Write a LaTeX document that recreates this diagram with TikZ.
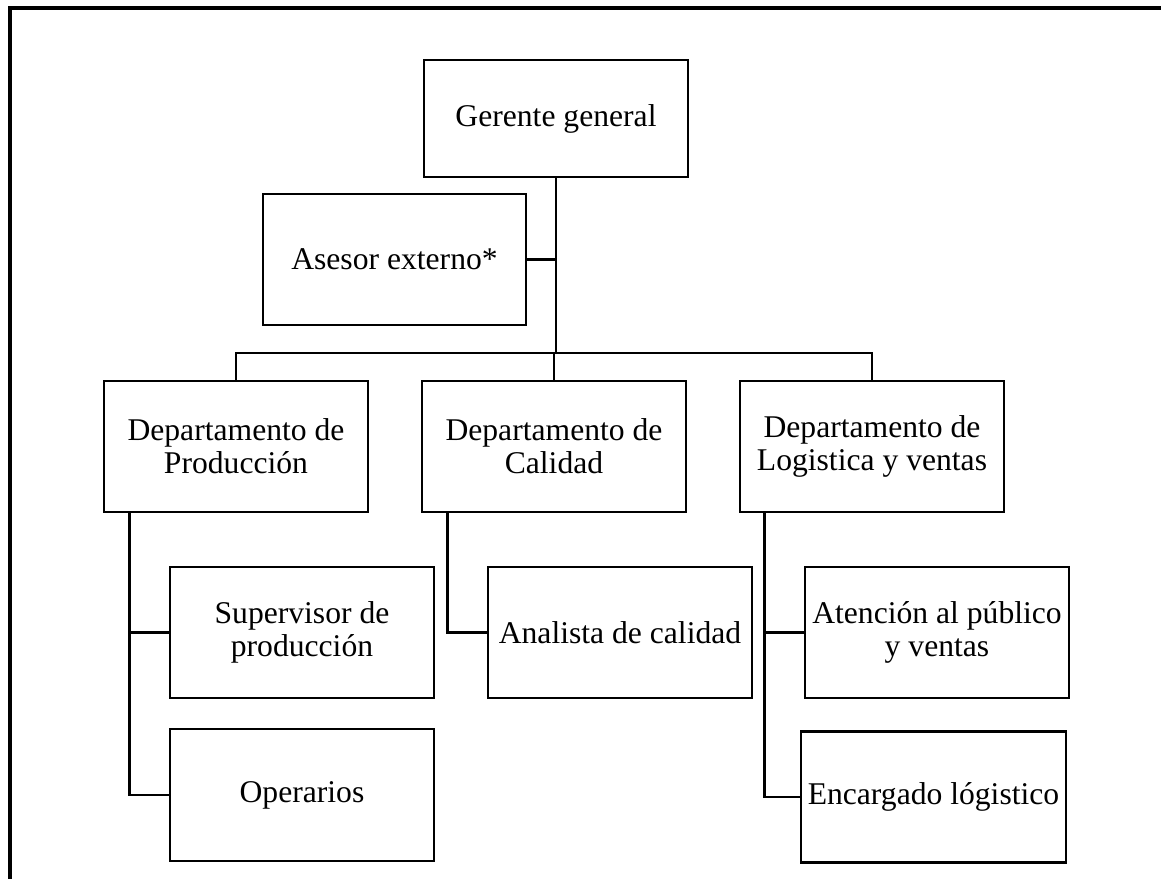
\documentclass[tikz,border=0pt]{standalone}
\usepackage{fontspec}
\setmainfont{Liberation Serif}
\usetikzlibrary{calc}

\begin{document}
\begin{tikzpicture}[x=0.02cm, y=-0.02cm, line cap=rect, line join=miter,
    box/.style={draw, line width=1.5pt, rectangle, inner sep=0pt, align=center,
      minimum width=5.28cm, minimum height=2.62cm,
      font=\fontsize{18pt}{18.6pt}\selectfont},
    link/.style={line width=1.5pt}]
  \useasboundingbox (0,0) rectangle (1161,879);

  %--- frame (only top and left edges show) -------------------------------
  \draw[line width=1.8pt] (10,879) -- (10,8) -- (1161,8);

  %--- top level ------------------------------------------------------------
  \node[box, minimum height=2.34cm] (gerente) at (556,118.5) {Gerente general};
  \node[box, minimum width=5.26cm] (asesor) at (394.5,259.5) {Asesor externo*};

  %--- departments ----------------------------------------------------------
  \node[box] (dprod) at (236,446.5) {Departamento de\\Producción};
  \node[box] (dcal)  at (554,446.5) {Departamento de\\Calidad};
  \node[box] (dlog)  at (872,446.5) {Departamento de\\Logistica y ventas};

  %--- staff ----------------------------------------------------------------
  \node[box] (superv)    at (302,632.5) {Supervisor de\\producción};
  \node[box, minimum height=2.64cm] (operarios) at (302,795) {Operarios};
  \node[box] (analista)  at (620,632.5) {Analista de calidad};
  \node[box] (atencion)  at (937,632.5) {Atención al público\\y ventas};
  \node[box, minimum width=5.3cm] (encargado) at (933.5,797) {Encargado lógistico};

  %--- connectors -----------------------------------------------------------
  \coordinate (hub) at (556,353);
  \draw[link] (gerente.south) -- (hub);
  \draw[link] (asesor.east) -- (asesor.east -| hub);
  \draw[link] (dprod.north) |- (hub) -| (dlog.north);
  \draw[link] (dcal.north) -- (dcal.north |- hub);

  \coordinate (pline) at ($(dprod.south west)+(27,0)$);
  \coordinate (cline) at ($(dcal.south west)+(27,0)$);
  \coordinate (lline) at ($(dlog.south west)+(26,0)$);
  \draw[link] (pline) |- (superv.west);
  \draw[link] (pline) |- (operarios.west);
  \draw[link] (cline) |- (analista.west);
  \draw[link] (lline) |- (atencion.west);
  \draw[link] (lline) |- (encargado.west);
\end{tikzpicture}
\end{document}
